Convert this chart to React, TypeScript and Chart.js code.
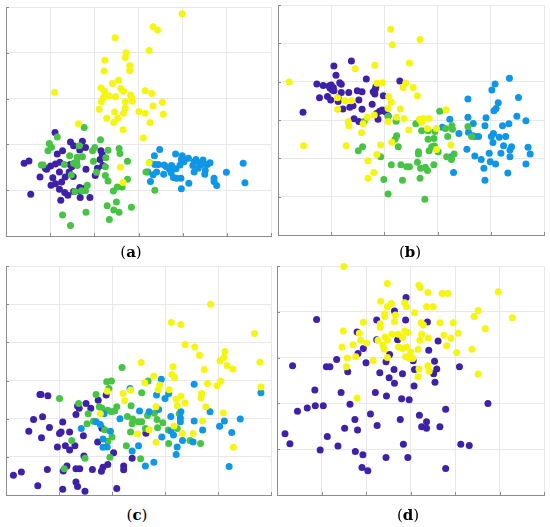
import React, { useEffect, useRef } from "react";
import { Chart, registerables } from "chart.js";

Chart.register(...registerables);

type P = [number, number];

const PURPLE = "#3e21a8";
const BLUE = "#0f96e6";
const GREEN = "#47c444";
const YELLOW = "#f5f512";

// ---- Panel (a) ----
const aYellow: P[] = [[3.99,4.85],[3.33,4.57],[3.43,4.50],[2.47,4.33],[3.24,4.05],[2.72,4.00],[2.70,3.90],[2.24,3.84],[2.80,3.72],[2.80,3.61],[2.22,3.60],[2.55,3.40],[2.41,3.33],[2.15,3.23],[2.60,3.22],[2.23,3.16],[2.66,3.16],[1.10,3.14],[3.15,3.17],[3.30,3.11],[2.33,3.06],[2.21,3.03],[2.82,3.08],[2.48,3.04],[2.84,3.03],[2.16,2.93],[2.86,2.94],[2.70,2.93],[3.54,2.92],[3.33,2.84],[2.70,2.79],[2.11,2.77],[2.46,2.71],[3.01,2.72],[2.66,2.68],[3.15,2.68],[3.56,2.66],[2.28,2.57],[2.53,2.57],[2.44,2.48],[3.26,2.48],[1.64,2.45],[2.65,2.32],[3.11,2.14],[3.24,1.60],[2.59,1.50],[2.65,1.17]];
const aPurple: P[] = [[1.11,2.26],[1.46,2.05],[1.73,2.07],[1.53,1.97],[1.80,1.93],[1.67,1.88],[1.28,1.86],[1.16,1.79],[2.15,1.86],[2.18,1.78],[2.13,1.67],[0.41,1.59],[0.52,1.64],[1.22,1.61],[1.12,1.57],[1.01,1.53],[0.89,1.48],[1.45,1.56],[1.49,1.51],[1.81,1.46],[2.07,1.48],[2.19,1.54],[1.21,1.40],[1.43,1.40],[1.52,1.30],[0.77,1.29],[1.06,1.27],[2.02,1.32],[1.34,1.29],[1.26,1.18],[1.12,1.14],[1.02,1.11],[1.67,1.06],[1.78,1.04],[1.65,0.99],[1.21,1.02],[1.33,0.95],[1.53,0.97],[0.56,0.91],[1.40,0.89],[1.68,0.84],[1.90,0.84],[1.24,0.78],[0.92,1.46]];
const aGreen: P[] = [[1.77,2.37],[1.16,2.16],[0.98,2.02],[1.03,1.94],[0.95,1.86],[1.66,1.97],[2.14,2.10],[2.01,1.93],[1.96,1.86],[2.31,1.87],[2.56,1.91],[2.58,1.80],[1.44,1.75],[1.61,1.72],[1.73,1.73],[1.60,1.62],[1.53,1.59],[1.98,1.63],[2.26,1.71],[2.25,1.51],[1.32,1.56],[0.80,1.55],[0.84,1.55],[1.61,1.54],[2.05,1.39],[3.17,1.40],[2.75,1.63],[1.48,1.33],[2.25,1.32],[2.31,1.20],[2.75,1.24],[1.84,1.11],[1.80,0.99],[2.52,1.07],[2.63,1.07],[2.43,0.98],[1.71,0.99],[1.56,0.97],[3.37,1.00],[2.29,0.66],[2.50,0.74],[2.44,0.57],[2.56,0.52],[2.84,0.63],[1.28,0.46],[1.81,0.52],[2.34,0.36],[1.46,0.23]];
const aBlue: P[] = [[3.48,1.89],[3.36,1.75],[3.84,1.79],[3.99,1.75],[3.97,1.67],[4.13,1.70],[4.30,1.67],[4.46,1.66],[4.62,1.60],[4.26,1.62],[3.25,1.60],[3.37,1.56],[3.45,1.56],[3.58,1.55],[3.63,1.51],[3.75,1.54],[3.94,1.55],[4.03,1.62],[4.23,1.54],[4.39,1.60],[4.43,1.56],[4.56,1.56],[3.70,1.46],[3.77,1.48],[3.85,1.47],[3.74,1.38],[3.57,1.35],[3.41,1.40],[3.33,1.34],[3.21,1.40],[4.26,1.40],[4.35,1.48],[4.51,1.43],[4.50,1.35],[3.79,1.28],[3.86,1.26],[3.96,1.26],[4.14,1.15],[3.97,1.03],[3.27,1.19],[4.71,1.26],[4.71,1.19],[4.77,1.10],[4.99,1.39],[5.37,1.59],[5.41,1.16]];

// ---- Panel (b) ----
const bPurple: P[] = [[1.05,4.41],[1.38,4.54],[1.09,4.17],[0.73,3.94],[0.85,3.90],[0.96,3.89],[1.00,3.91],[1.04,3.85],[1.02,3.78],[1.05,3.76],[1.16,3.97],[1.19,3.93],[0.78,3.58],[0.93,3.61],[0.99,3.52],[1.13,3.48],[1.19,3.72],[1.33,3.72],[1.49,3.76],[1.58,3.74],[1.66,4.07],[1.52,3.52],[1.79,3.74],[1.84,3.87],[1.83,3.80],[1.82,3.68],[1.77,3.41],[1.22,3.29],[1.35,3.33],[1.41,3.37],[1.58,3.28],[1.43,3.03],[1.52,2.96],[1.88,3.02],[1.85,3.17],[1.91,3.23],[1.96,3.26],[2.01,3.22],[2.07,3.11],[1.98,3.63],[2.29,4.02],[0.47,3.20],[1.13,3.58],[0.98,3.83]];
const bYellow: P[] = [[0.21,3.99],[0.48,2.33],[2.12,5.37],[2.15,4.96],[2.67,5.10],[2.47,4.49],[1.45,4.34],[1.82,4.43],[1.86,3.96],[1.96,3.97],[2.35,3.85],[2.40,3.96],[2.54,3.85],[2.62,3.63],[1.12,3.58],[1.26,3.50],[1.38,3.50],[1.12,3.28],[2.08,3.61],[2.13,3.46],[2.07,3.30],[2.30,3.29],[2.23,3.07],[2.37,3.03],[1.68,3.07],[1.81,3.13],[1.32,2.96],[1.33,2.85],[1.60,2.90],[1.57,2.67],[2.46,2.74],[2.07,2.96],[1.28,2.33],[1.93,2.35],[1.86,2.10],[1.69,1.94],[1.80,1.63],[1.69,1.48],[2.14,2.42],[2.66,3.02],[2.73,3.04],[2.84,3.04],[2.70,2.94],[2.81,2.78],[2.98,2.78],[3.16,3.27],[3.25,2.35],[2.98,2.23]];
const bGreen: P[] = [[3.04,3.23],[2.07,3.10],[2.22,2.97],[2.59,2.90],[2.23,2.59],[2.20,2.50],[2.26,2.30],[2.70,2.72],[2.82,2.72],[2.95,2.70],[3.15,2.78],[3.27,2.85],[3.28,2.76],[3.57,2.83],[3.64,2.57],[3.19,2.57],[2.82,2.50],[2.93,2.52],[2.94,2.32],[2.89,2.30],[1.51,2.20],[1.59,2.30],[1.93,2.04],[2.64,2.17],[2.64,2.11],[2.84,2.20],[3.01,2.17],[3.17,2.04],[3.26,1.97],[3.31,2.11],[2.62,1.90],[2.13,1.83],[2.31,1.83],[2.42,1.78],[2.47,1.78],[2.68,1.74],[2.77,1.77],[2.81,1.68],[2.93,1.83],[2.67,1.48],[1.99,1.45],[2.34,1.43],[2.07,1.07],[2.76,0.93],[1.62,2.96]];
const bBlue: P[] = [[4.35,4.09],[4.08,3.94],[4.02,3.78],[4.52,3.59],[3.57,3.55],[4.14,3.45],[4.10,3.30],[4.06,3.24],[3.23,3.02],[3.67,2.91],[3.57,3.07],[3.91,3.06],[4.49,3.10],[4.66,2.98],[4.34,2.90],[4.22,2.85],[3.89,2.85],[3.09,2.81],[3.40,2.65],[3.58,2.68],[3.66,2.59],[3.70,2.57],[3.77,2.57],[4.01,2.57],[4.05,2.65],[4.16,2.55],[4.28,2.57],[4.04,2.41],[4.24,2.33],[4.39,2.30],[4.36,2.22],[4.70,2.29],[3.55,2.24],[3.97,2.13],[4.19,2.13],[4.36,2.04],[4.74,2.11],[3.70,2.06],[3.82,1.97],[3.99,1.91],[4.09,1.85],[4.66,1.85],[3.87,1.74],[3.30,1.63],[4.32,1.62],[3.89,1.43],[3.26,2.04]];

// ---- Panel (c) ----
const cYellow: P[] = [[3.86,5.00],[3.12,4.52],[3.30,4.47],[3.38,3.94],[3.56,3.88],[3.65,3.66],[4.13,3.76],[4.11,3.60],[4.04,3.52],[4.17,3.39],[4.28,3.30],[3.74,3.29],[4.69,4.23],[4.79,3.48],[4.81,2.83],[2.55,3.47],[3.15,3.36],[3.13,3.16],[3.18,3.08],[2.79,3.11],[2.62,2.94],[2.90,2.88],[2.87,2.76],[2.35,2.75],[2.21,2.66],[3.08,2.76],[3.30,2.59],[3.21,2.51],[3.23,2.34],[3.38,2.41],[3.69,2.66],[3.68,2.55],[3.98,2.86],[4.05,2.98],[3.80,2.92],[3.77,2.31],[2.83,2.31],[2.24,2.47],[1.78,2.13],[1.91,2.72],[2.48,1.60],[2.70,1.71],[2.83,1.38],[3.17,1.81],[3.33,1.61],[3.53,1.61],[3.71,1.94],[4.10,2.15],[4.29,1.25]];
const cBlue: P[] = [[2.93,3.03],[2.34,2.79],[2.84,2.62],[3.07,2.66],[3.00,2.53],[3.55,2.90],[2.52,2.20],[2.70,2.18],[2.88,2.24],[3.11,2.06],[3.30,2.18],[3.29,2.02],[3.29,1.92],[3.55,1.94],[3.85,2.18],[4.12,1.94],[4.42,1.99],[4.03,1.80],[3.71,1.70],[4.26,1.64],[4.81,2.68],[2.15,2.00],[1.42,1.74],[1.78,1.85],[1.97,1.67],[1.83,1.47],[1.91,1.26],[1.83,1.25],[2.50,1.29],[2.38,1.15],[2.63,0.76],[2.79,0.86],[2.94,1.52],[3.11,1.68],[3.16,1.57],[3.23,1.26],[3.21,1.06],[3.33,1.43],[3.53,1.39],[4.21,0.75],[1.70,1.92],[1.85,2.13]];
const cGreen: P[] = [[2.19,3.34],[1.99,2.99],[1.90,2.97],[1.94,2.79],[1.01,2.53],[1.37,2.40],[1.70,2.63],[1.76,2.31],[1.81,2.27],[1.92,2.22],[1.99,2.18],[2.09,2.31],[2.05,2.20],[1.55,2.13],[1.65,1.93],[1.53,1.87],[1.86,1.71],[2.00,1.52],[1.92,1.41],[1.24,1.43],[1.49,0.96],[1.10,0.69],[1.96,0.99],[2.29,2.06],[2.36,2.34],[2.56,2.68],[2.68,2.99],[2.39,1.99],[2.38,1.87],[2.35,1.65],[2.50,1.92],[2.67,2.08],[2.80,2.14],[2.85,1.98],[2.96,1.89],[2.63,1.74],[2.86,1.76],[3.06,1.70],[3.23,1.74],[3.27,2.13],[2.27,1.29],[2.54,0.95],[3.07,1.35],[3.47,1.43],[3.67,1.35],[2.56,1.92]];
const cPurple: P[] = [[0.64,2.63],[0.79,2.60],[1.89,2.62],[1.35,2.33],[1.38,2.27],[1.51,2.40],[1.60,2.27],[1.32,2.11],[1.74,2.48],[0.69,2.05],[0.52,1.98],[1.07,1.91],[0.82,1.77],[0.43,1.67],[0.67,1.50],[1.04,1.65],[1.01,1.61],[1.20,1.65],[1.46,1.55],[0.97,1.26],[1.12,1.29],[1.20,1.18],[1.30,1.29],[1.73,1.39],[1.47,1.02],[2.03,1.11],[2.38,0.96],[1.92,0.80],[1.83,0.73],[1.80,0.62],[1.63,0.67],[1.15,0.76],[1.08,0.63],[1.32,0.69],[1.39,0.69],[0.78,0.67],[0.29,0.60],[0.14,0.52],[0.60,0.24],[1.07,0.15],[1.32,0.34],[1.35,0.22],[1.49,0.10],[2.09,0.17],[2.22,0.76],[2.22,0.66],[2.64,1.62],[1.81,1.75],[0.66,2.63]];

// ---- Panel (d) ----
const dYellow: P[] = [[1.50,4.99],[2.48,4.62],[3.19,4.58],[3.22,4.53],[3.39,4.42],[3.71,4.40],[3.84,4.40],[4.97,4.44],[2.33,4.23],[2.57,4.18],[2.48,4.11],[2.87,4.20],[2.91,4.11],[3.36,4.11],[3.51,4.11],[3.09,3.98],[2.42,3.96],[2.42,3.90],[2.66,3.93],[2.64,3.79],[4.52,4.03],[4.43,3.90],[2.32,3.74],[2.32,3.66],[1.94,3.77],[3.24,3.76],[3.29,3.71],[3.66,3.76],[3.96,3.76],[5.29,3.87],[4.68,3.63],[1.49,3.58],[1.85,3.53],[2.87,3.58],[2.94,3.55],[2.58,3.51],[2.72,3.51],[2.82,3.44],[2.43,3.45],[2.48,3.38],[2.27,3.38],[1.88,3.38],[2.01,3.32],[1.71,3.28],[1.46,3.23],[2.38,3.27],[2.41,3.18],[2.73,3.23],[2.82,3.20],[2.91,3.23],[3.00,3.12],[3.21,3.38],[3.25,3.51],[3.40,3.43],[3.75,3.49],[3.81,3.26],[3.91,3.42],[4.07,3.53],[4.38,3.18],[4.04,3.11],[3.17,3.18],[1.58,2.99],[1.56,2.80],[1.77,3.02],[2.89,3.02],[2.98,2.98],[3.05,2.98],[2.16,2.93],[2.48,3.00],[3.19,2.75],[3.17,2.58],[3.42,2.70],[3.39,2.82],[4.52,2.64],[1.80,2.12]];
const dPurple: P[] = [[2.90,4.31],[2.64,4.02],[0.89,3.83],[2.24,3.82],[2.89,3.82],[3.38,3.78],[1.80,3.56],[2.24,3.39],[2.71,3.39],[3.62,3.36],[1.94,3.20],[1.82,3.09],[3.41,3.16],[2.53,3.07],[1.34,2.96],[2.00,2.89],[2.45,2.91],[1.11,2.80],[1.19,2.80],[1.59,2.69],[0.35,2.82],[3.06,2.93],[3.54,2.92],[4.10,2.80],[3.09,2.74],[2.31,2.67],[2.63,2.74],[2.82,2.65],[3.59,2.75],[3.52,2.65],[2.52,2.56],[2.64,2.44],[3.55,2.46],[3.08,2.38],[0.85,2.29],[1.44,2.24],[2.21,2.24],[2.46,2.16],[2.80,2.10],[2.97,2.08],[1.64,1.98],[0.86,1.95],[1.04,1.95],[0.46,1.83],[0.68,1.90],[3.79,1.87],[4.74,2.00],[2.10,1.77],[1.75,1.65],[2.77,1.65],[3.20,1.74],[3.36,1.60],[3.25,1.49],[3.36,1.46],[3.66,1.49],[2.25,1.52],[1.81,1.42],[1.52,1.46],[0.18,1.34],[0.29,1.12],[1.13,1.28],[0.97,0.98],[1.37,1.07],[1.76,0.95],[1.93,0.88],[2.45,0.82],[2.84,1.11],[2.94,0.82],[4.13,1.11],[4.32,1.08],[1.91,0.60],[2.04,0.53],[3.79,0.58]];

const PANEL_LABELS = ["a", "b", "c", "d"];

type Series = { pts: P[]; color: string };

const AXIS_COLOR = "#8c8c8c";
const GRID_COLOR = "#e8e8e8";
const PAD = 6;

const innerTicks = {
  id: "innerTicks",
  afterDraw(chart: any) {
    const { ctx, chartArea, scales } = chart;
    const { left, bottom } = chartArea;
    ctx.save();
    ctx.strokeStyle = AXIS_COLOR;
    ctx.lineWidth = 1;
    ctx.beginPath();
    scales.x.ticks.forEach((t: any) => {
      const px = Math.round(scales.x.getPixelForValue(t.value)) + 0.5;
      ctx.moveTo(px, bottom);
      ctx.lineTo(px, bottom - 3);
    });
    scales.y.ticks.forEach((t: any) => {
      const py = Math.round(scales.y.getPixelForValue(t.value)) + 0.5;
      ctx.moveTo(left, py);
      ctx.lineTo(left + 3, py);
    });
    ctx.stroke();
    ctx.restore();
  },
};

function Panel(props: {
  left: number; top: number; w: number; h: number;
  xMax: number; yMax: number; series: Series[];
}) {
  const ref = useRef<HTMLCanvasElement>(null);
  const { left, top, w, h, xMax, yMax, series } = props;
  useEffect(() => {
    if (!ref.current) return;
    const chart = new Chart(ref.current, {
      type: "scatter",
      data: {
        datasets: series.map((s) => ({
          data: s.pts.map(([x, y]) => ({ x, y })),
          backgroundColor: s.color,
          borderWidth: 0,
          pointRadius: 3.5,
          pointHoverRadius: 3.5,
          clip: false as any,
        })),
      },
      options: {
        animation: false,
        responsive: false,
        maintainAspectRatio: false,
        events: [],
        layout: { padding: PAD },
        plugins: { legend: { display: false }, tooltip: { enabled: false } },
        scales: {
          x: {
            type: "linear", min: 0, max: xMax,
            ticks: { display: false, stepSize: 1 },
            grid: { color: GRID_COLOR, drawTicks: false, lineWidth: 1 },
            border: { display: true, color: AXIS_COLOR, width: 1 },
          },
          y: {
            type: "linear", min: 0, max: yMax,
            ticks: { display: false, stepSize: 1 },
            grid: { color: GRID_COLOR, drawTicks: false, lineWidth: 1 },
            border: { display: true, color: AXIS_COLOR, width: 1 },
          },
        },
      },
      plugins: [innerTicks],
    });
    return () => chart.destroy();
  }, []);
  return (
    <canvas
      ref={ref}
      width={w + 2 * PAD}
      height={h + 2 * PAD}
      style={{ position: "absolute", left: left - PAD, top: top - PAD, width: w + 2 * PAD, height: h + 2 * PAD }}
    />
  );
}

function Label(props: { cx: number; cy: number; letter: string }) {
  return (
    <div
      style={{
        position: "absolute", left: props.cx, top: props.cy, transform: "translate(-50%, -50%)",
        fontFamily: "'DejaVu Serif', 'Liberation Serif', serif", fontSize: 15, color: "#000", whiteSpace: "nowrap",
        lineHeight: "17px",
      }}
    >
      (<b>{props.letter}</b>)
    </div>
  );
}

export default function App() {
  // yellow first so it is drawn on top, purple last (bottom)
  const seriesA: Series[] = [
    { pts: aYellow, color: YELLOW }, { pts: aGreen, color: GREEN },
    { pts: aBlue, color: BLUE }, { pts: aPurple, color: PURPLE },
  ];
  const seriesB: Series[] = [
    { pts: bYellow, color: YELLOW }, { pts: bGreen, color: GREEN },
    { pts: bBlue, color: BLUE }, { pts: bPurple, color: PURPLE },
  ];
  const seriesC: Series[] = [
    { pts: cYellow, color: YELLOW }, { pts: cBlue, color: BLUE },
    { pts: cGreen, color: GREEN }, { pts: cPurple, color: PURPLE },
  ];
  const seriesD: Series[] = [
    { pts: dYellow, color: YELLOW }, { pts: dPurple, color: PURPLE },
  ];
  return (
    <div style={{ position: "absolute", left: 0, top: 0, width: 550, height: 527, background: "#fff", overflow: "hidden" }}>
      <Panel left={6} top={7} w={265} h={229} xMax={6} yMax={5} series={seriesA} />
      <Panel left={278} top={5} w={266} h={230} xMax={5} yMax={6} series={seriesB} />
      <Panel left={6} top={266} w={265} h={229} xMax={5} yMax={6} series={seriesC} />
      <Panel left={277} top={266} w={267} h={229} xMax={6} yMax={5} series={seriesD} />
      <Label cx={131} cy={252} letter={PANEL_LABELS[0]} />
      <Label cx={410} cy={252} letter={PANEL_LABELS[1]} />
      <Label cx={137} cy={515} letter={PANEL_LABELS[2]} />
      <Label cx={408} cy={515} letter={PANEL_LABELS[3]} />
    </div>
  );
}
